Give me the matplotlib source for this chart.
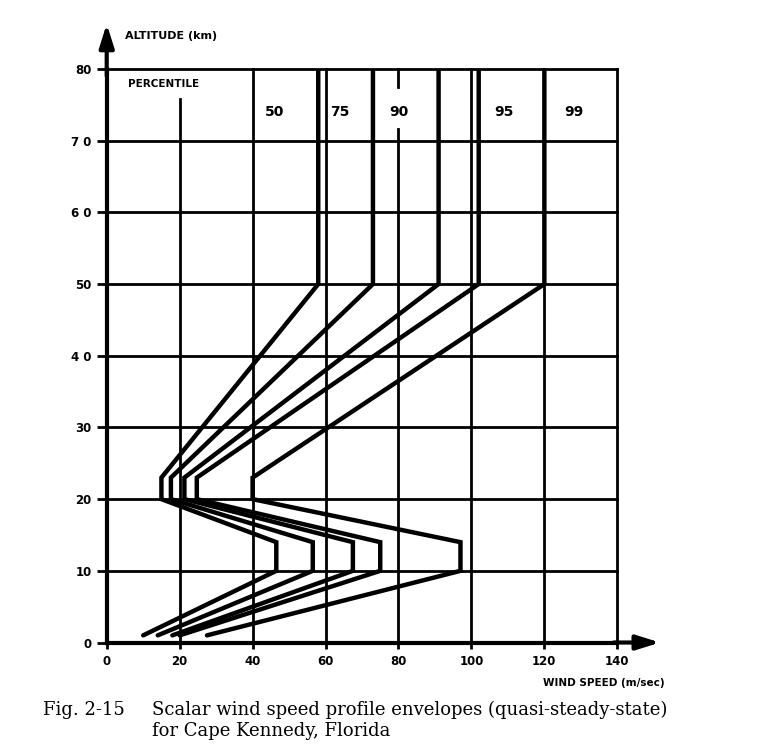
import matplotlib
matplotlib.use("Agg")
import matplotlib.pyplot as plt

# altitude break points (km) shared by every envelope
altitude = [1, 10, 14, 20, 23, 50, 80]

# wind speed (m/sec) at each break point
p50 = [10, 46.5, 46.5, 15, 15, 58, 58]
p75 = [14, 56.5, 56.5, 17.6, 17.6, 73, 73]
p90 = [18, 67.5, 67.5, 21.3, 21.3, 91, 91]
p95 = [20, 75, 75, 24.7, 24.7, 102, 102]
p99 = [27.5, 97, 97, 40, 40, 120, 120]

percentiles = ["50", "75", "90", "95", "99"]
label_x = [46, 64, 80, 109, 128]

x_ticks = [0, 20, 40, 60, 80, 100, 120, 140]
x_ticklabels = ["0", "20", "40", "60", "80", "100", "120", "140"]
y_ticks = [0, 10, 20, 30, 40, 50, 60, 70, 80]
y_ticklabels = ["0", "10", "20", "30", "4 0", "50", "6 0", "7 0", "80"]

fig = plt.figure(figsize=(7.59, 7.5), dpi=100)
ax = fig.add_axes([0.1406, 0.1433, 0.6727, 0.7647])
ax.set_xlim(0, 140)
ax.set_ylim(0, 80)

lab_font = dict(family="DejaVu Sans", weight="bold")
grid_kw = dict(color="black", lw=2.0, solid_capstyle="projecting", clip_on=False)

# grid / frame
for y in y_ticks[1:]:
    ax.plot([0, 140], [y, y], **grid_kw)
for x in [40, 60, 100, 120, 140]:
    ax.plot([x, x], [0, 80], **grid_kw)
ax.plot([20, 20], [0, 75.8], **grid_kw)
ax.plot([80, 80], [0, 71.7], **grid_kw)
ax.plot([80, 80], [77.5, 80], **grid_kw)

# envelopes
for prof in [p50, p75, p90, p95, p99]:
    ax.plot(prof, altitude, color="black", lw=3.2, solid_joinstyle="miter",
            solid_capstyle="round")

for name, x in zip(percentiles, label_x):
    ax.text(x, 74, name, ha="center", va="center", fontsize=10, **lab_font)
ax.text(5.9, 77.9, "PERCENTILE", ha="left", va="center", fontsize=7.5, **lab_font)

# axes
for side in ["top", "right"]:
    ax.spines[side].set_visible(False)
for side in ["left", "bottom"]:
    ax.spines[side].set_linewidth(3)
ax.set_xticks(x_ticks)
ax.set_xticklabels(x_ticklabels, fontsize=8.5, **lab_font)
ax.set_yticks(y_ticks)
ax.set_yticklabels(y_ticklabels, fontsize=8.5, **lab_font)
ax.tick_params(axis="x", direction="out", length=4, width=2, pad=5)
ax.tick_params(axis="y", direction="out", length=7, width=2, pad=4)

arrow = dict(arrowstyle="-|>,head_length=0.7,head_width=0.22", lw=3,
             color="black", mutation_scale=20, shrinkA=0, shrinkB=0)
ax.annotate("", xy=(0, 86.3), xytext=(0, 79), arrowprops=arrow,
            annotation_clip=False)
ax.annotate("", xy=(151.7, 0), xytext=(139, 0), arrowprops=arrow,
            annotation_clip=False)

ax.text(5, 84.6, "ALTITUDE (km)", ha="left", va="center", fontsize=8,
        clip_on=False, **lab_font)
ax.text(153, -5.6, "WIND SPEED (m/sec)", ha="right", va="center", fontsize=7.5,
        clip_on=False, **lab_font)

# caption
cap_font = dict(fontsize=13, family="DejaVu Serif", ha="left", va="center")
fig.text(43 / 759, 1 - 710 / 750, "Fig. 2-15", **cap_font)
fig.text(152 / 759, 1 - 710 / 750,
         "Scalar wind speed profile envelopes (quasi-steady-state)", **cap_font)
fig.text(152 / 759, 1 - 731 / 750, "for Cape Kennedy, Florida", **cap_font)

fig.savefig("out.png", dpi=100)
